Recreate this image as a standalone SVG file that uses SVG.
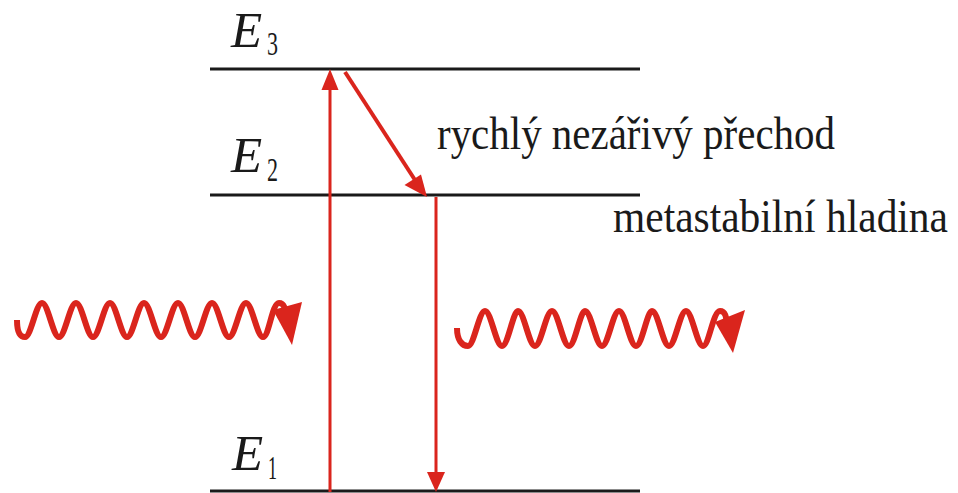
<svg xmlns="http://www.w3.org/2000/svg" width="958" height="493" viewBox="0 0 958 493">
<defs>
<style>
.lvl{stroke:#1a1a1a;stroke-width:3;fill:none}
.red{stroke:#da251d;fill:none}
.head{fill:#da251d;stroke:none}
.wave{stroke:#da251d;stroke-width:6;fill:none;stroke-linecap:butt}
.lab{font-family:"Liberation Serif","Times New Roman",serif;fill:#1a1a1a}
.E{font-style:italic;font-size:51px}
.sub{font-size:33px}
.txt{font-size:47px}
</style>
</defs>
<rect width="958" height="493" fill="#fff"/>
<g id="levels">
<g id="E3"><line class="lvl" x1="210" y1="69" x2="640" y2="69"/><text class="lab E" x="231" y="47">E</text><text class="lab sub" x="267" y="55" textLength="11" lengthAdjust="spacingAndGlyphs">3</text></g>
<g id="E2"><line class="lvl" x1="210" y1="195" x2="640" y2="195"/><text class="lab E" x="231" y="172">E</text><text class="lab sub" x="267" y="181" textLength="11" lengthAdjust="spacingAndGlyphs">2</text></g>
<g id="E1"><line class="lvl" x1="210" y1="491" x2="640" y2="491"/><text class="lab E" x="232" y="470">E</text><text class="lab sub" x="268" y="479" textLength="9" lengthAdjust="spacingAndGlyphs">1</text></g>
</g>
<g id="labels">
<text class="lab txt" x="437" y="149" textLength="398" lengthAdjust="spacingAndGlyphs">rychlý nezářivý přechod</text>
<text class="lab txt" x="613" y="232" textLength="335" lengthAdjust="spacingAndGlyphs">metastabilní hladina</text>
</g>
<g id="connectors">
<line class="red" stroke-width="3" x1="330" y1="492" x2="330" y2="86"/>
<polygon class="head" points="330,69 338.5,90 321.5,90"/>
<line class="red" stroke-width="4" x1="345" y1="72" x2="415" y2="180"/>
<polygon class="head" points="427,197 404.5,185 421,174.5"/>
<line class="red" stroke-width="3" x1="436" y1="197" x2="436" y2="476"/>
<polygon class="head" points="436,492 427,472 445,472"/>
</g>
<g id="photon-in">
<path class="wave" d="M17,320 C17,332 20,337 25,337 C31,337 36,303 42,303 C48,303 53,337 59,337 C65,337 70,303 76,303 C82,303 87,337 93,337 C99,337 104,303 110,303 C116,303 121,337 127,337 C133,337 138,303 144,303 C150,303 155,337 161,337 C167,337 172,303 178,303 C184,303 189,337 195,337 C201,337 206,303 212,303 C218,303 223,337 229,337 C235,337 240,303 246,303 C252,303 257,337 263,337 C269,337 272,303 279,303 C284,303 286,309 285,316"/>
<polygon class="head" points="273,310 302,302 292,345"/>
</g>
<g id="photon-out">
<path class="wave" d="M457,328 C457,340 462,346 468,346 C474,346 479,311 485,311 C491,311 496,346 502,346 C508,346 513,311 518,311 C524,311 529,346 535,346 C541,346 546,311 552,311 C558,311 563,346 569,346 C575,346 580,311 585,311 C591,311 596,346 602,346 C608,346 613,311 619,311 C625,311 630,346 636,346 C642,346 647,311 652,311 C658,311 663,346 669,346 C675,346 680,311 686,311 C692,311 697,346 703,346 C709,346 713,311 720,311 C725,311 727,317 726,324"/>
<polygon class="head" points="715,322 745,310 733,353"/>
</g>
</svg>
